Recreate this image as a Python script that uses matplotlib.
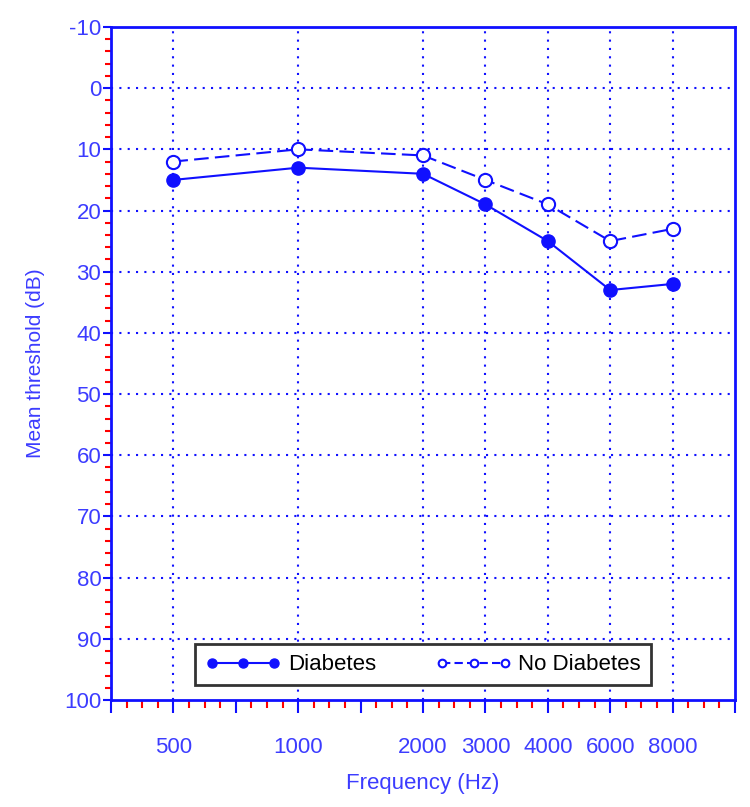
import numpy as np
import matplotlib.pyplot as plt
from matplotlib.lines import Line2D
from matplotlib.ticker import MultipleLocator

plt.rcParams['font.family'] = ['Liberation Sans', 'DejaVu Sans']
plt.rcParams['axes.unicode_minus'] = False

freqs = [500, 1000, 2000, 3000, 4000, 6000, 8000]
diabetes = [15, 13, 14, 19, 25, 33, 32]
no_diabetes = [12, 10, 11, 15, 19, 25, 23]
freq_labels = ['500', '1000', '2000', '3000', '4000', '6000', '8000']

blue = '#1010ff'
txt_blue = '#3c3cff'


def oct_pos(f):
    # audiogram scale: each octave same width, half-octaves linear between
    f = np.asarray(f, dtype=float)
    k = np.floor(np.log2(f / 500.0))
    return k + f / (500.0 * 2 ** k) - 1


xs = oct_pos(freqs)

fig = plt.figure(figsize=(7.5, 8.07), dpi=100)
ax = fig.add_axes([0.148, 0.1326, 0.832, 0.834])

ax.set_xlim(-0.5, 4.5)
ax.set_ylim(100, -10)

# grid
for x in xs:
    ax.axvline(x, color=blue, lw=1.5, ls=(0, (1, 3)), zorder=1)
for y in range(0, 100, 10):
    ax.axhline(y, color=blue, lw=1.5, ls=(0, (1, 3)), zorder=1)

ax.plot(xs, diabetes, color=blue, lw=1.5, marker='o', ms=9.5, zorder=3)
ax.plot(xs, no_diabetes, color=blue, lw=1.5, ls=(0, (7, 3)), marker='o', ms=9.5,
        mfc='white', mec=blue, mew=1.5, zorder=3)

# ticks
major_x = np.arange(-0.5, 4.51, 0.5)
ax.set_xticks(major_x)
lab = {round(float(p), 3): l for p, l in zip(xs, freq_labels)}
ax.set_xticklabels([lab.get(round(float(p), 3), '') for p in major_x])
ax.xaxis.set_minor_locator(MultipleLocator(0.125))
ax.set_yticks(range(-10, 101, 10))
ax.yaxis.set_minor_locator(MultipleLocator(2))

ax.tick_params(axis='x', which='major', direction='out', length=9.5, width=1.5,
               color=blue, labelcolor=txt_blue, labelsize=16, pad=17)
ax.tick_params(axis='x', which='minor', direction='out', length=6, width=1.5,
               color='red')
ax.tick_params(axis='y', which='major', direction='out', length=6, width=1.5,
               color=blue, labelcolor=txt_blue, labelsize=16, pad=1)
ax.tick_params(axis='y', which='minor', direction='out', length=4, width=1.5,
               color='red')

for s in ax.spines.values():
    s.set_color(blue)
    s.set_linewidth(2)

ax.set_xlabel('Frequency (Hz)', color=txt_blue, fontsize=16)
ax.set_ylabel('Mean threshold (dB)', color=txt_blue, fontsize=15)
ax.xaxis.set_label_coords(0.5, -0.1085)
ax.yaxis.set_label_coords(-0.106, 0.5)

handles = [
    Line2D([], [], color=blue, lw=1.5, marker='o', ms=6.5),
    Line2D([], [], color=blue, lw=1.5, ls=(0, (4, 2)), marker='o', ms=5.5,
           mfc='white', mec=blue, mew=1.5),
]
leg = ax.legend(handles, ['Diabetes', 'No Diabetes'], loc='center',
                bbox_to_anchor=(0.5, 0.052), ncol=2, numpoints=3,
                handlelength=3.4, handletextpad=0.3, columnspacing=2.7,
                borderpad=0.45, fontsize=16, fancybox=False, framealpha=1)
leg.get_frame().set_edgecolor('#333333')
leg.get_frame().set_linewidth(2)

fig.savefig('out.png', dpi=100)
